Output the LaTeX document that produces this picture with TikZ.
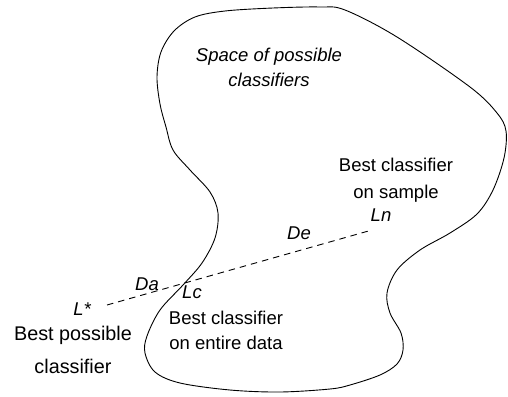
\documentclass[tikz,border=0pt]{standalone}
\usepackage{fontspec}
\setmainfont{Liberation Sans}
\begin{document}
\begin{tikzpicture}[x=1pt,y=-1pt,
  lbl/.style={inner sep=0pt,anchor=base,font=\fontsize{18.5}{22}\selectfont},
  lblit/.style={lbl,font=\fontsize{18.5}{22}\selectfont\itshape},
  lblbig/.style={lbl,font=\fontsize{19.8}{24}\selectfont},
  outline/.style={draw=black,line width=0.9pt},
  gap/.style={draw=black,line width=0.9pt,dash pattern=on 6.5pt off 5pt}]
\useasboundingbox (0,0) rectangle (508,396);

% region of possible classifiers
\draw[outline] plot[smooth cycle,tension=0.55] coordinates {
  (157,77) (161,52) (174,31) (195,17) (225,11) (273,8) (320,7) (345,10)
  (397,37) (470,87) (497,113) (506,131) (504,158) (493,190) (477,214)
  (450,233) (420,250) (397,270) (387,293) (390,313) (401,333) (403,350)
  (397,364) (380,375) (350,385) (330,389) (280,392) (230,390) (180,383)
  (155,372) (145,353) (147,336) (160,310) (183,285) (202,263) (215,238)
  (218,213) (210,192) (190,170) (173,150) (166,127) (160,104)};

% end points of the error decomposition
\coordinate (lstar) at (107,305);
\coordinate (ln) at (372,230);
\draw[gap] (lstar) -- (ln);

\node[lblit] (space1) at (269,61.5) {Space of possible};
\node[lblit] (space2) at (269,86.5) {classifiers};

\node[lbl] (samp1) at (396,171.5) {Best classifier};
\node[lbl] (samp2) at (396,198) {on sample};
\node[lblit] (lnlab) at (381,221.5) {Ln};

\node[lblit] (delab) at (299,239) {De};
\node[lblit] (dalab) at (147,290) {Da};
\node[lblit] (lclab) at (192,298.5) {Lc};
\node[lblit] (lslab) at (82,315) {L*};

\node[lblbig] (poss1) at (73,340) {Best possible};
\node[lblbig] (poss2) at (73,373) {classifier};

\node[lbl] (ent1) at (226,324) {Best classifier};
\node[lbl] (ent2) at (226,349) {on entire data};
\end{tikzpicture}
\end{document}
